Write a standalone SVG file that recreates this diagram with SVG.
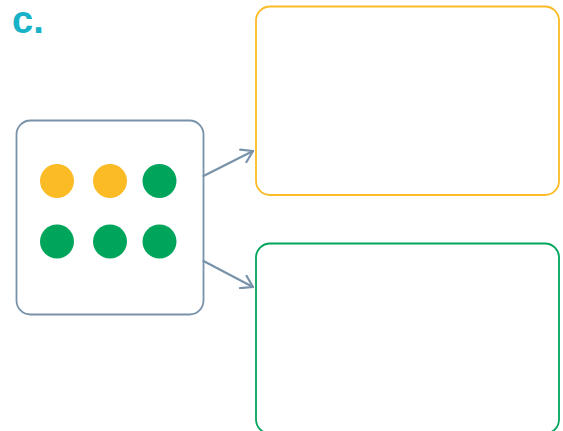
<svg xmlns="http://www.w3.org/2000/svg" width="563" height="431" viewBox="0 0 563 431">
<style>
.box{fill:#fff;stroke-width:1.8}
.conn{fill:none;stroke:#7892A9;stroke-width:2.2;stroke-linecap:round;stroke-linejoin:round}
.y{fill:#FBBB24}
.g{fill:#00A55C}
</style>
<defs>
<marker id="arr" markerWidth="16" markerHeight="16" refX="13" refY="8" orient="auto" markerUnits="userSpaceOnUse">
<path d="M2,1 L13,8 L2,15" fill="none" stroke="#7892A9" stroke-width="2.2" stroke-linecap="round" stroke-linejoin="round"/>
</marker>
</defs>
<rect width="563" height="431" fill="#fff"/>
<text x="12" y="33" font-family="'Liberation Sans', Arial, sans-serif" font-weight="bold" font-size="38" fill="#17B2C8">c.</text>
<g id="source">
<rect class="box" x="16.5" y="120.5" width="187" height="194" rx="14" stroke="#7892A9"/>
<circle class="y" cx="57" cy="181" r="17"/>
<circle class="y" cx="110" cy="181" r="17"/>
<circle class="g" cx="159.5" cy="181" r="17"/>
<circle class="g" cx="57" cy="241.5" r="17"/>
<circle class="g" cx="110" cy="241.5" r="17"/>
<circle class="g" cx="159.5" cy="241.5" r="17"/>
</g>
<g id="yellowBox">
<rect class="box" x="256" y="6.5" width="303" height="188.5" rx="14" stroke="#FBBB24"/>
</g>
<g id="greenBox">
<rect class="box" x="256" y="243.5" width="303" height="190" rx="14" stroke="#00A55C"/>
</g>
<g id="connectors">
<path class="conn" d="M203.5,176 L253,151" marker-end="url(#arr)"/>
<path class="conn" d="M203.5,261 L253,287" marker-end="url(#arr)"/>
</g>
</svg>
